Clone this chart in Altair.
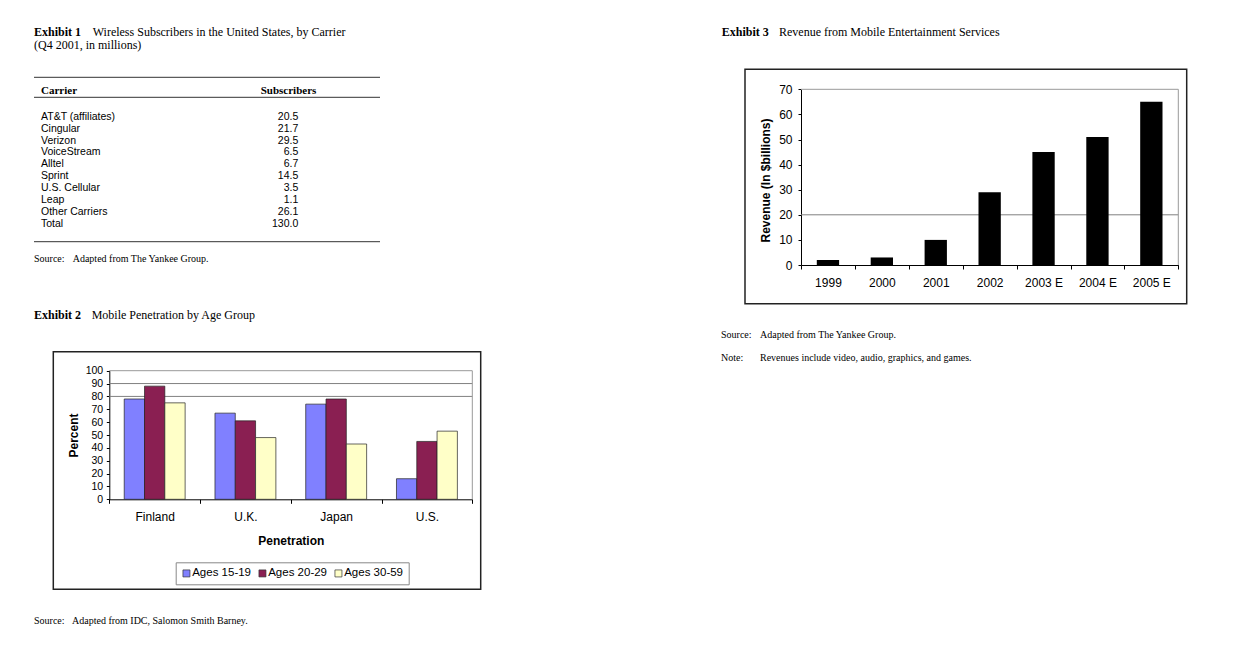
import altair as alt
import pandas as pd

SANS = "Liberation Sans"
SERIF = "Liberation Serif"

# ---------------- data ----------------
carriers = ["AT&T (affiliates)", "Cingular", "Verizon", "VoiceStream", "Alltel",
            "Sprint", "U.S. Cellular", "Leap", "Other Carriers", "Total"]
subscribers = [20.5, 21.7, 29.5, 6.5, 6.7, 14.5, 3.5, 1.1, 26.1, 130.0]
table_headers = ["Carrier", "Subscribers"]

countries = ["Finland", "U.K.", "Japan", "U.S."]
age_groups = ["Ages 15-19", "Ages 20-29", "Ages 30-59"]
pen_15_19 = [78, 67, 74, 16]
pen_20_29 = [88, 61, 78, 45]
pen_30_59 = [75, 48, 43, 53]
age_colors = ["#8080ff", "#8a1f52", "#ffffc8"]
pen_grid = [80, 90]
pen_ticks = list(range(0, 101, 10))

years = ["1999", "2000", "2001", "2002", "2003 E", "2004 E", "2005 E"]
revenue = [2, 3, 10, 29, 45, 51, 65]
rev_grid = [20]
rev_ticks = list(range(0, 71, 10))

W, H = 1220, 640
M = 8  # page margin: image coordinate -> chart coordinate
one = pd.DataFrame({"k": [0]})


def P(v):
    return v - M


TITLE = 12
SRC = 10


def txt(s, x, y, size=TITLE, font=SERIF, bold=False, align="left"):
    return alt.Chart(one).mark_text(
        text=s, align=align, baseline="middle", font=font, fontSize=size,
        fontWeight="bold" if bold else "normal", color="black"
    ).encode(x=alt.value(P(x)), y=alt.value(P(y)))


def hrule(x1, x2, y, color="#333", w=1.0):
    return alt.Chart(one).mark_rule(color=color, strokeWidth=w).encode(
        x=alt.value(P(x1)), x2=alt.value(P(x2)), y=alt.value(P(y)))


def vrule(x, y1, y2, color="#333", w=1.0):
    return alt.Chart(one).mark_rule(color=color, strokeWidth=w).encode(
        x=alt.value(P(x)), y=alt.value(P(y1)), y2=alt.value(P(y2)))


def box(x1, y1, x2, y2, stroke="#222", w=1.5):
    return alt.Chart(one).mark_rect(
        fillOpacity=0, stroke=stroke, strokeWidth=w).encode(
        x=alt.value(P(x1)), x2=alt.value(P(x2)),
        y=alt.value(P(y1)), y2=alt.value(P(y2)))


# ---------------- Exhibit 1 (table) ----------------
tbl = pd.DataFrame({"carrier": carriers,
                    "value": [f"{v:.1f}" for v in subscribers]})
row_y = alt.Y("carrier:N", sort=carriers, axis=None,
              scale=alt.Scale(type="point", range=[P(116.7), P(224)], padding=0))
rows_lbl = alt.Chart(tbl).mark_text(align="left", baseline="middle", font=SANS,
                                    fontSize=10.5, color="black").encode(
    x=alt.value(P(41)), y=row_y, text="carrier:N")
rows_val = alt.Chart(tbl).mark_text(align="right", baseline="middle", font=SANS,
                                    fontSize=10.5, color="black").encode(
    x=alt.value(P(298.3)), y=row_y, text="value:N")
table = alt.layer(rows_lbl, rows_val)

exhibit1 = [
    txt("Exhibit 1", 34, 31.7, bold=True),
    txt("Wireless Subscribers in the United States, by Carrier", 92.7, 31.7),
    txt("(Q4 2001, in millions)", 34, 45),
    hrule(34, 380, 77.3),
    txt(table_headers[0], 41, 91, size=11, bold=True),
    txt(table_headers[1], 288.5, 91, size=11, bold=True, align="center"),
    hrule(34, 380, 97.3),
    hrule(34, 380, 241.7),
    txt("Source:", 34, 258.7, size=SRC),
    txt("Adapted from The Yankee Group.", 72.7, 258.7, size=SRC),
]

# ---------------- Exhibit 2 (grouped bars) ----------------
BX, BY, BW, BH = 109.3, 370.7, 363, 128.6
pen_rows = []
for grp, vals in zip(age_groups, [pen_15_19, pen_20_29, pen_30_59]):
    for c, v in zip(countries, vals):
        pen_rows.append({"country": c, "group": grp, "value": v})
pen_df = pd.DataFrame(pen_rows)

yB = alt.Y("value:Q",
           scale=alt.Scale(domain=[0, 100], nice=False, range=[P(BY + BH), P(BY)]),
           axis=alt.Axis(orient="left", offset=-P(BX), values=pen_ticks,
                         title="Percent", grid=False, labelOverlap=False,
                         tickSize=3, labelPadding=3.6, labelFontSize=10.5,
                         titleFontSize=12, titleFontWeight="bold",
                         titleX=-36, titleY=P(BY + BH / 2), titleBaseline="middle",
                         titleAlign="center"))
bars_B = alt.Chart(pen_df).mark_bar(stroke="#222", strokeWidth=0.7).encode(
    x=alt.X("country:N", sort=countries,
            scale=alt.Scale(paddingInner=0, paddingOuter=0,
                            range=[P(BX), P(BX + BW)]),
            axis=alt.Axis(orient="bottom", offset=P(BY + BH) - H, title="Penetration",
                          tickBand="extent", labelAngle=0,
                          labelFontSize=12, tickSize=4, labelPadding=13.5,
                          labelBaseline="middle", grid=False,
                          titleFontSize=12, titleFontWeight="bold",
                          titleX=P(BX + BW / 2), titleY=40.7, titleBaseline="middle",
                          titleAlign="center")),
    xOffset=alt.XOffset("group:N", sort=age_groups,
                        scale=alt.Scale(paddingInner=0, paddingOuter=0.735)),
    y=yB,
    color=alt.Color("group:N", sort=age_groups,
                    scale=alt.Scale(domain=age_groups, range=age_colors),
                    legend=alt.Legend(title=None, orient="none", legendX=P(175.7),
                                      legendY=P(562.3), direction="horizontal",
                                      symbolType="square", symbolSize=49,
                                      symbolStrokeColor="#333",
                                      symbolStrokeWidth=0.7,
                                      labelFont=SANS, labelFontSize=11.5,
                                      labelColor="black", labelOffset=0,
                                      columnPadding=5, padding=5,
                                      strokeColor="#888")),
)
grid_B = alt.Chart(pd.DataFrame({"v": pen_grid})).mark_rule(
    color="#808080", strokeWidth=1).encode(
    y=alt.Y("v:Q"), x=alt.value(P(BX)), x2=alt.value(P(BX + BW)))
chartB = alt.layer(grid_B, bars_B)

exhibit2 = [
    txt("Exhibit 2", 34, 315, bold=True),
    txt("Mobile Penetration by Age Group", 91.7, 315),
    box(53.3, 351.7, 480.7, 589.3),
    hrule(BX, BX + BW, BY, color="#999"),
    vrule(BX + BW, BY, BY + BH, color="#999"),
    txt("Source:", 34, 621, size=SRC),
    txt("Adapted from IDC, Salomon Smith Barney.", 72, 621, size=SRC),
]

# ---------------- Exhibit 3 (revenue bars) ----------------
CX, CY, CW, CH = 801, 89.3, 377.3, 175.7
rev_df = pd.DataFrame({"year": years, "rev": revenue})
bars_C = alt.Chart(rev_df).mark_bar(color="black",
                                    width=alt.RelativeBandSize(0.414)).encode(
    x=alt.X("year:N", sort=years,
            scale=alt.Scale(paddingInner=0, paddingOuter=0, range=[P(CX), P(CX + CW)]),
            axis=alt.Axis(orient="bottom", offset=P(CY + CH) - H, title=None,
                          tickBand="extent", labelAngle=0,
                          labelFontSize=12, tickSize=4, labelPadding=13.3,
                          labelBaseline="middle", grid=False)),
    y=alt.Y("rev:Q", scale=alt.Scale(domain=[0, 70], nice=False,
                                     range=[P(CY + CH), P(CY)]),
            axis=alt.Axis(orient="left", offset=-P(CX), values=rev_ticks,
                          title="Revenue (In $billions)", labelOverlap=False,
                          grid=False, tickSize=3, labelPadding=6,
                          labelFontSize=12, titleFontSize=12,
                          titleFontWeight="bold", titleX=-36, titleY=P(CY + 90.7),
                          titleBaseline="middle", titleAlign="center")),
)
grid_C = alt.Chart(pd.DataFrame({"v": rev_grid})).mark_rule(
    color="#808080", strokeWidth=1).encode(
    y=alt.Y("v:Q"), x=alt.value(P(CX)), x2=alt.value(P(CX + CW)))
chartC = alt.layer(grid_C, bars_C)

exhibit3 = [
    txt("Exhibit 3", 721.7, 31.7, bold=True),
    txt("Revenue from Mobile Entertainment Services", 779, 31.7),
    box(745, 69.3, 1186.7, 303.7),
    hrule(CX, CX + CW, CY, color="#999"),
    vrule(CX + CW, CY, CY + CH, color="#999"),
    txt("Source:", 721, 335, size=SRC),
    txt("Adapted from The Yankee Group.", 760, 335, size=SRC),
    txt("Note:", 721, 357.7, size=SRC),
    txt("Revenues include video, audio, graphics, and games.", 760, 357.7, size=SRC),
]

chart = alt.layer(
    table, chartB, chartC, *exhibit1, *exhibit2, *exhibit3
).resolve_scale(
    x="independent", y="independent", color="independent", xOffset="independent"
).resolve_axis(
    x="independent", y="independent"
).resolve_legend(color="independent").properties(
    width=W, height=H, padding=0
).configure_view(stroke=None).configure_axis(
    labelFont=SANS, titleFont=SANS, labelColor="black", titleColor="black",
    domainColor="black", tickColor="black", domainWidth=1, tickWidth=1
)

chart.save("out.html", embed_options={"renderer": "svg", "actions": False})
